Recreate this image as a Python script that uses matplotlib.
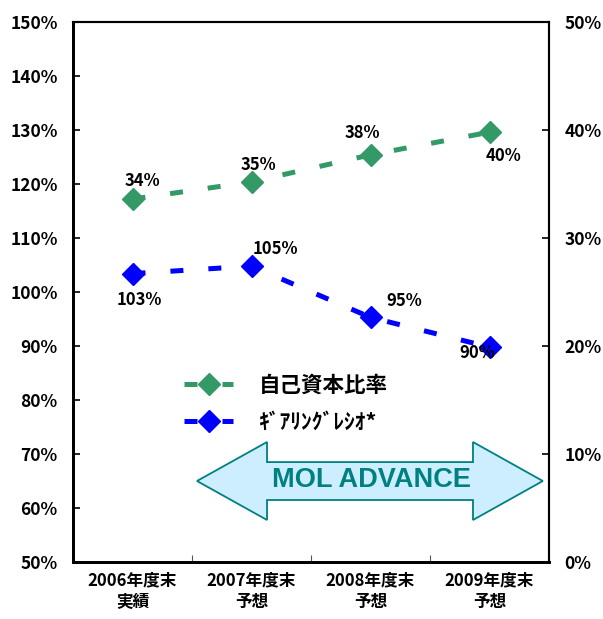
import matplotlib
matplotlib.use("Agg")
import matplotlib.pyplot as plt
from matplotlib.patches import Polygon
from matplotlib.lines import Line2D
from matplotlib.ticker import FuncFormatter

plt.rcParams['font.family'] = ['Noto Sans CJK JP', 'DejaVu Sans']
plt.rcParams['font.weight'] = 'bold'

# データ
categories = ['2006年度末\n実績', '2007年度末\n予想', '2008年度末\n予想', '2009年度末\n予想']
equity_ratio = [33.6, 35.2, 37.7, 39.8]      # 自己資本比率 (右軸)
gearing_ratio = [103.4, 104.8, 95.3, 89.8]   # ギアリングレシオ (左軸)
label_equity = '自己資本比率'
label_gearing = 'ｷﾞｱﾘﾝｸﾞﾚｼｵ*'

green = '#339966'
blue = '#0000FF'

fig = plt.figure(figsize=(6.03, 6.19), dpi=100)
ax = fig.add_axes([73/603, 1-562/619, 476/603, 540/619])
ax2 = ax.twinx()

x = list(range(len(categories)))

# 左軸: ギアリングレシオ
ax.plot(x, gearing_ratio, color=blue, lw=3.6, dashes=(2.6, 5), marker='D',
        markersize=11, markeredgecolor=blue, zorder=3)
ax.set_ylim(50, 150)
ax.set_yticks(range(50, 151, 10))
ax.yaxis.set_major_formatter(FuncFormatter(lambda v, p: f'{v:.0f}%'))
ax.set_xlim(-0.5, 3.5)
ax.set_xticks(x)
ax.set_xticklabels(categories, fontsize=12, fontweight='bold', linespacing=1.25)
ax.set_xticks([0.5, 1.5, 2.5], minor=True)
ax.tick_params(axis='x', which='major', length=0, pad=7)
ax.tick_params(axis='x', which='minor', direction='in', length=5, width=0.8, color='#555555')
ax.tick_params(axis='y', direction='in', length=5, width=1.2, pad=11, labelsize=12.5)
for lab in ax.get_yticklabels():
    lab.set_fontweight('bold')

# 右軸: 自己資本比率
ax2.plot(x, equity_ratio, color=green, lw=3.6, dashes=(2.6, 5), marker='D',
         markersize=11, markeredgecolor=green, zorder=3)
ax2.set_ylim(0, 50)
ax2.set_yticks(range(0, 51, 10))
ax2.yaxis.set_major_formatter(FuncFormatter(lambda v, p: f'{v:.0f}%'))
ax2.tick_params(axis='y', direction='in', length=5, width=1.2, pad=11, labelsize=12.5)
for lab in ax2.get_yticklabels():
    lab.set_fontweight('bold')

for a in (ax, ax2):
    a.spines['left'].set_linewidth(2)
    a.spines['bottom'].set_linewidth(2)
    a.spines['top'].set_linewidth(1.5)
    a.spines['right'].set_linewidth(1.5)

# データラベル
eq_offsets = [(7, 13), (5, 12), (-6, 16), (10, -17)]
for xi, v, off in zip(x, equity_ratio, eq_offsets):
    ax2.annotate(f'{v:.0f}%', (xi, v), xytext=off, textcoords='offset points',
                 ha='center', va='center', fontsize=12, fontweight='bold')
gr_offsets = [(5, -19), (17, 12), (24, 12), (-9, -4)]
for xi, v, off in zip(x, gearing_ratio, gr_offsets):
    ax.annotate(f'{v:.0f}%', (xi, v), xytext=off, textcoords='offset points',
                ha='center', va='center', fontsize=12, fontweight='bold', zorder=5)

# 凡例
handles = [
    Line2D([], [], color=green, lw=3.6, dashes=(2.6, 5), marker='D', markersize=11),
    Line2D([], [], color=blue, lw=3.6, dashes=(2.6, 5), marker='D', markersize=11),
]
ax2.legend(handles, [label_equity, label_gearing], loc='center left',
           bbox_to_anchor=(0.233, 0.2935), frameon=False, borderpad=0,
           borderaxespad=0, handlelength=2.3, handletextpad=1.2,
           labelspacing=0.75, prop={'family': ['Noto Sans CJK JP'], 'weight': 'bold', 'size': 15.5})

# MOL ADVANCE 矢印
arrow = Polygon([(0.2605, 0.15), (0.4076, 0.2222), (0.4076, 0.185), (0.8403, 0.185),
                 (0.8403, 0.2222), (0.987, 0.15), (0.8403, 0.0778), (0.8403, 0.1148),
                 (0.4076, 0.1148), (0.4076, 0.0778)], closed=True,
                transform=ax2.transAxes, facecolor='#CCEEFF', edgecolor='#008080',
                lw=1.3, zorder=4)
ax2.add_patch(arrow)
ax2.text(0.626, 0.152, 'MOL ADVANCE', transform=ax2.transAxes, ha='center', va='center',
         fontsize=19.5, fontweight='bold', color='#008080', family=['Liberation Sans'], zorder=5)

fig.savefig('out.png', dpi=100)
